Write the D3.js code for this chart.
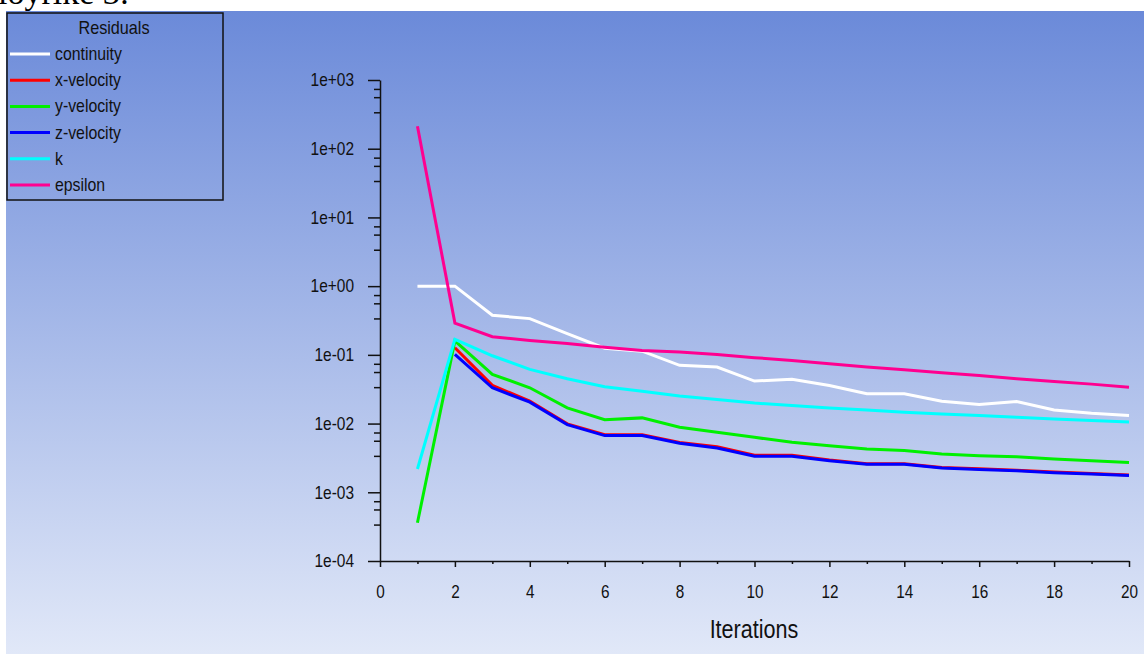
<!DOCTYPE html>
<html>
<head>
<meta charset="utf-8">
<script src="https://cdn.jsdelivr.net/npm/d3@7"></script>
<style>
    html, body { margin: 0; padding: 0; background: #fff; overflow: hidden; }
    text { font-family: "Liberation Sans Narrow", "Arial Narrow", "Liberation Sans", sans-serif; }
</style>
</head>
<body>
<div id="graph"></div>
<script>
/* Residual data (iteration 1..20) */
const iterations = [1, 2, 3, 4, 5, 6, 7, 8, 9, 10, 11, 12, 13, 14, 15, 16, 17, 18, 19, 20];
const continuity = [1.0, 1.0, 0.377, 0.337, 0.204, 0.125, 0.113, 0.0703, 0.0664, 0.0415, 0.0443, 0.0359, 0.0271, 0.0271, 0.0212, 0.0189, 0.0210, 0.0158, 0.0141, 0.0131];
const xVelocity = [null, 0.127, 0.0359, 0.0212, 0.0099, 0.0069, 0.0069, 0.0053, 0.0046, 0.00345, 0.00345, 0.00295, 0.0026, 0.0026, 0.0023, 0.0022, 0.0021, 0.00197, 0.00187, 0.00178];
const yVelocity = [0.00036, 0.160, 0.052, 0.0332, 0.0169, 0.0114, 0.0121, 0.00883, 0.00746, 0.0063, 0.00533, 0.00477, 0.00427, 0.00404, 0.00361, 0.00341, 0.0033, 0.00305, 0.00288, 0.00272];
const zVelocity = [null, 0.102, 0.0332, 0.0205, 0.00966, 0.00668, 0.00668, 0.00516, 0.00442, 0.00334, 0.00334, 0.00288, 0.00255, 0.00255, 0.00225, 0.00215, 0.00206, 0.00193, 0.00184, 0.00176];
const kResidual = [0.00218, 0.168, 0.097, 0.0615, 0.0449, 0.0343, 0.0295, 0.0251, 0.0224, 0.0199, 0.0183, 0.0169, 0.0158, 0.0146, 0.0138, 0.0131, 0.0124, 0.0117, 0.0111, 0.0105];
const epsilon = [212, 0.29, 0.184, 0.162, 0.146, 0.129, 0.116, 0.110, 0.1016, 0.091, 0.083, 0.0744, 0.0664, 0.0608, 0.055, 0.0502, 0.045, 0.041, 0.0375, 0.0339];

const seriesNames = ["continuity", "x-velocity", "y-velocity", "z-velocity", "k", "epsilon"];
const seriesColors = ["#ffffff", "#ff0000", "#00f000", "#0000ff", "#00ffff", "#ff0090"];
const seriesValues = [continuity, xVelocity, yVelocity, zVelocity, kResidual, epsilon];

const yTicks = [1e3, 1e2, 1e1, 1e0, 1e-1, 1e-2, 1e-3, 1e-4];
const xTicks = [0, 2, 4, 6, 8, 10, 12, 14, 16, 18, 20];
const xMinorTicks = [1, 3, 5, 7, 9, 11, 13, 15, 17, 19];

window.addEventListener("DOMContentLoaded", main)

/* squeeze text horizontally, no narrow font is installed */
function narrow(sel, k) {
    sel.each(function () {
        const t = d3.select(this);
        const x = +(t.attr("x") || 0);
        t.attr("x", x / k).attr("transform", "scale(" + k + ",1)");
    });
}

function main() {
    const W = 1144, H = 654;
    const svg = d3.select("#graph").append("svg").attr("width", W).attr("height", H)

    /* Caption left over above the figure */
    svg.append("text")
        .attr("x", -2).attr("y", 4)
        .style("font-family", "'Liberation Serif', serif")
        .style("font-size", "34px")
        .attr("fill", "#000")
        .text("loyrike 3:");

    /* Background gradient */
    const grad = svg.append("defs").append("linearGradient")
        .attr("id", "bg").attr("x1", 0).attr("y1", 0).attr("x2", 0).attr("y2", 1);
    grad.append("stop").attr("offset", "0%").attr("stop-color", "#6b8ad9");
    grad.append("stop").attr("offset", "100%").attr("stop-color", "#e1e8f8");
    svg.append("rect").attr("x", 6).attr("y", 11).attr("width", W - 6).attr("height", H - 11)
        .attr("fill", "url(#bg)");

    /* Scales */
    const xScale = d3.scaleLinear().domain([0, 20]).range([380, 1129]);
    const yScale = d3.scaleLog().domain([1e-4, 1e3]).range([561, 80]);

    const fmt = d => {
        const e = Math.round(Math.log10(d));
        return "1e" + (e < 0 ? "-" : "+") + String(Math.abs(e)).padStart(2, "0");
    };

    /* Y axis, major + minor ticks */
    const yMinor = [];
    yTicks.slice(0, -1).forEach(t => {
        [0.13, 0.25, 0.47].forEach(f => yMinor.push(t * Math.pow(10, -f)));
    });
    svg.append("g")
        .attr("transform", "translate(380,0)")
        .call(d3.axisLeft(yScale).tickValues(yMinor).tickSize(6).tickSizeOuter(0).tickFormat(""))
        .call(g => g.select(".domain").remove());
    const yAxis = svg.append("g")
        .attr("transform", "translate(380,0)")
        .call(d3.axisLeft(yScale).tickValues(yTicks).tickFormat(fmt).tickSize(12).tickSizeOuter(0).tickPadding(14));
    yAxis.selectAll("text").style("font-size", "18px").attr("fill", "#111").call(narrow, 0.86);

    /* X axis */
    svg.append("g")
        .attr("transform", "translate(0,561)")
        .call(d3.axisBottom(xScale).tickValues(xMinorTicks).tickSize(3).tickSizeOuter(0).tickFormat(""))
        .call(g => g.select(".domain").remove());
    const xAxis = svg.append("g")
        .attr("transform", "translate(0,561)")
        .call(d3.axisBottom(xScale).tickValues(xTicks).tickSize(6).tickSizeOuter(0).tickPadding(18));
    xAxis.selectAll("text").style("font-size", "18px").attr("fill", "#111").call(narrow, 0.85);
    svg.selectAll(".domain, .tick line").attr("stroke", "#111").attr("stroke-width", 1.5);

    svg.append("text")
        .attr("x", 754).attr("y", 638)
        .style("text-anchor", "middle")
        .style("font-size", "26px")
        .attr("fill", "#111")
        .text("Iterations")
        .call(narrow, 0.83);

    /* Residual lines */
    const line = d3.line()
        .defined(d => d.v != null)
        .x(d => xScale(d.i))
        .y(d => yScale(d.v));

    seriesValues.forEach((vals, s) => {
        const pts = iterations.map((it, j) => ({ i: it, v: vals[j] }));
        svg.append("path")
            .datum(pts)
            .attr("fill", "none")
            .attr("stroke", seriesColors[s])
            .attr("stroke-width", 3)
            .attr("d", line);
    });

    /* Legend */
    const legend = svg.append("g").attr("id", "legend");
    legend.append("rect")
        .attr("x", 7).attr("y", 13).attr("width", 216).attr("height", 187)
        .attr("fill", "none").attr("stroke", "#111").attr("stroke-width", 1.5);
    legend.append("text")
        .attr("x", 114).attr("y", 34)
        .style("text-anchor", "middle")
        .style("font-size", "18px")
        .attr("fill", "#111")
        .text("Residuals")
        .call(narrow, 0.9);

    const items = legend.selectAll(".legend-label")
        .data(seriesNames)
        .enter()
        .append("g")
        .attr("class", "legend-label")
        .attr("transform", (d, i) => "translate(0," + (54 + i * 26.2) + ")");
    items.append("line")
        .attr("x1", 10).attr("x2", 50)
        .attr("stroke", (d, i) => seriesColors[i])
        .attr("stroke-width", 3);
    items.append("text")
        .attr("x", 55).attr("y", 6)
        .style("font-size", "18px")
        .attr("fill", "#111")
        .text(d => d)
        .call(narrow, 0.88);
}
</script>
</body>
</html>
